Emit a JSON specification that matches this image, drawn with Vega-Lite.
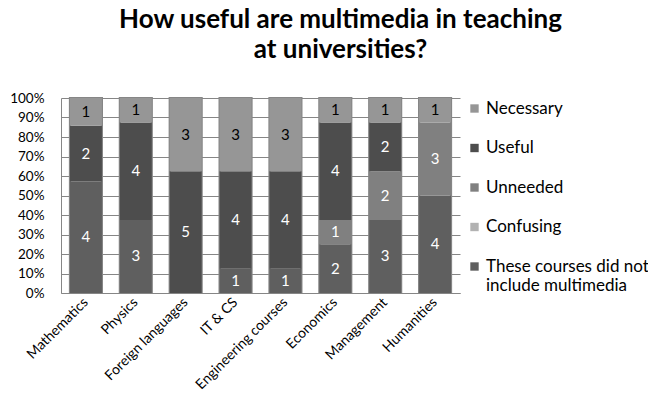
{
  "$schema": "https://vega.github.io/schema/vega-lite/v6.json",
  "width": 399,
  "height": 195,
  "autosize": {"type": "none"},
  "padding": {"left": 61, "top": 98, "right": 188, "bottom": 116},
  "background": "white",
  "config": {"font": "Lato", "view": {"stroke": null}},
  "title": {
    "text": ["How useful are multimedia in teaching", "at universities?"],
    "fontSize": 26,
    "fontWeight": "bold",
    "font": "Lato",
    "color": "#000000",
    "anchor": "middle",
    "dx": 80,
    "offset": 28,
    "lineHeight": 30
  },
  "data": {
    "values": [
      {"category": "Mathematics", "response": "These courses did not include multimedia", "value": 4, "order": 1},
      {"category": "Mathematics", "response": "Useful", "value": 2, "order": 4},
      {"category": "Mathematics", "response": "Necessary", "value": 1, "order": 5},
      {"category": "Physics", "response": "These courses did not include multimedia", "value": 3, "order": 1},
      {"category": "Physics", "response": "Useful", "value": 4, "order": 4},
      {"category": "Physics", "response": "Necessary", "value": 1, "order": 5},
      {"category": "Foreign languages", "response": "Useful", "value": 5, "order": 4},
      {"category": "Foreign languages", "response": "Necessary", "value": 3, "order": 5},
      {"category": "IT & CS", "response": "These courses did not include multimedia", "value": 1, "order": 1},
      {"category": "IT & CS", "response": "Useful", "value": 4, "order": 4},
      {"category": "IT & CS", "response": "Necessary", "value": 3, "order": 5},
      {"category": "Engineering courses", "response": "These courses did not include multimedia", "value": 1, "order": 1},
      {"category": "Engineering courses", "response": "Useful", "value": 4, "order": 4},
      {"category": "Engineering courses", "response": "Necessary", "value": 3, "order": 5},
      {"category": "Economics", "response": "These courses did not include multimedia", "value": 2, "order": 1},
      {"category": "Economics", "response": "Unneeded", "value": 1, "order": 3},
      {"category": "Economics", "response": "Useful", "value": 4, "order": 4},
      {"category": "Economics", "response": "Necessary", "value": 1, "order": 5},
      {"category": "Management", "response": "These courses did not include multimedia", "value": 3, "order": 1},
      {"category": "Management", "response": "Unneeded", "value": 2, "order": 3},
      {"category": "Management", "response": "Useful", "value": 2, "order": 4},
      {"category": "Management", "response": "Necessary", "value": 1, "order": 5},
      {"category": "Humanities", "response": "These courses did not include multimedia", "value": 4, "order": 1},
      {"category": "Humanities", "response": "Unneeded", "value": 3, "order": 3},
      {"category": "Humanities", "response": "Necessary", "value": 1, "order": 5}
    ]
  },
  "transform": [
    {"stack": "value", "groupby": ["category"], "sort": [{"field": "order", "order": "ascending"}], "offset": "normalize", "as": ["y0", "y1"]},
    {"calculate": "(datum.y0 + datum.y1) / 2", "as": "ymid"}
  ],
  "encoding": {
    "x": {
      "field": "category", "type": "nominal", "sort": null,
      "scale": {"paddingInner": 0.36, "paddingOuter": 0.18},
      "axis": {
        "title": null, "labelAngle": -45, "labelAlign": "right", "labelBaseline": "middle",
        "labelFontSize": 14, "labelColor": "#000000", "ticks": false, "labelPadding": 7,
        "domainColor": "#868686", "domainWidth": 1, "labelFont": "Lato"
      }
    },
    "y": {
      "field": "y0", "type": "quantitative",
      "scale": {"domain": [0, 1], "nice": false},
      "axis": {
        "title": null, "format": ".0%", "values": [0, 0.1, 0.2, 0.3, 0.4, 0.5, 0.6, 0.7, 0.8, 0.9, 1],
        "labelFontSize": 13.5, "labelColor": "#000000", "ticks": false, "labelPadding": 17,
        "labelOverlap": false, "labelFlush": false,
        "gridColor": "#868686", "grid": true, "domainColor": "#868686", "labelFont": "Lato"
      }
    }
  },
  "layer": [
    {
      "transform": [
        {"aggregate": [{"op": "min", "field": "y0", "as": "lo"}, {"op": "max", "field": "y1", "as": "hi"}], "groupby": ["category"]}
      ],
      "mark": {"type": "bar", "fill": "#ffffff", "fillOpacity": 0, "stroke": "#868686", "strokeWidth": 2.2},
      "encoding": {
        "y": {"field": "lo", "type": "quantitative"},
        "y2": {"field": "hi"}
      }
    },
    {
      "mark": {"type": "bar"},
      "encoding": {
        "y2": {"field": "y1"},
        "color": {
          "field": "response", "type": "nominal",
          "scale": {
            "domain": ["Necessary", "Useful", "Unneeded", "Confusing", "These courses did not include multimedia"],
            "range": ["#969696", "#4d4d4d", "#808080", "#b2b2b2", "#5f5f5f"]
          },
          "legend": {
            "title": null, "orient": "none", "legendX": 405, "legendY": 2,
            "symbolType": "square", "symbolSize": 70, "symbolStrokeWidth": 0,
            "labelFontSize": 17, "labelFont": "Lato", "labelColor": "#000000",
            "rowPadding": 21.5, "labelOffset": 3, "padding": 0, "labelLimit": 300,
            "labelExpr": "datum.label == 'These courses did not include multimedia' ? ['These courses did not', 'include multimedia'] : datum.label"
          }
        }
      }
    },
    {
      "mark": {"type": "text", "fontSize": 15, "font": "Lato"},
      "encoding": {
        "y": {"field": "ymid", "type": "quantitative"},
        "text": {"field": "value", "type": "quantitative"},
        "color": {
          "condition": {"test": "datum.response == 'Necessary'", "value": "#000000"},
          "value": "#ffffff"
        }
      }
    }
  ]
}
